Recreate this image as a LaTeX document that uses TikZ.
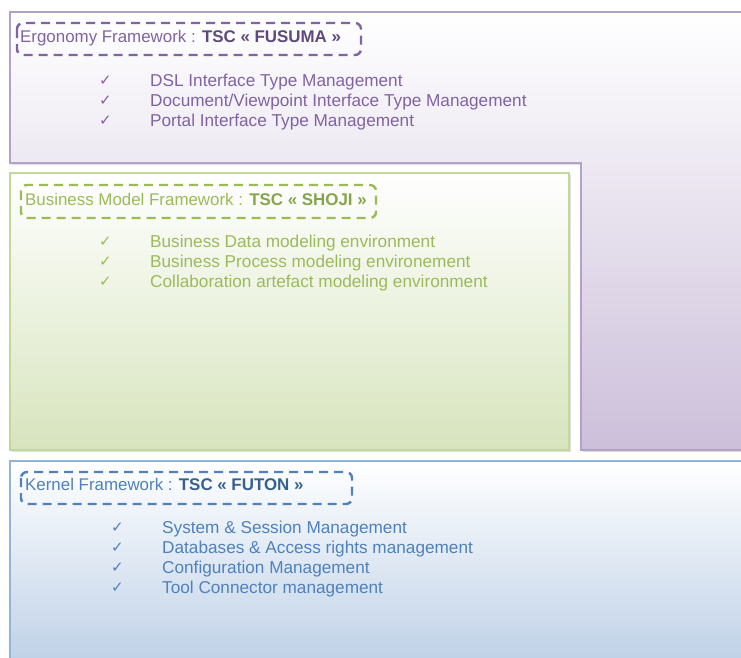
\documentclass[tikz,border=0pt]{standalone}
\usepackage{fontspec}
\setmainfont{Liberation Sans}
\newfontfamily\symfont{DejaVu Sans}
\usetikzlibrary{shadows}
\definecolor{pBorder}{HTML}{B3A2C7}
\definecolor{pFill}{HTML}{CCBFDA}
\definecolor{pText}{HTML}{8064A2}
\definecolor{pBold}{HTML}{5F497A}
\definecolor{gBorder}{HTML}{C3D69B}
\definecolor{gFill}{HTML}{D7E4BD}
\definecolor{gText}{HTML}{9BBB59}
\definecolor{gBold}{HTML}{86A44A}
\definecolor{bBorder}{HTML}{95B3D7}
\definecolor{bFill}{HTML}{B9CDE5}
\definecolor{bText}{HTML}{4F81BD}
\definecolor{bBold}{HTML}{376092}
\tikzset{
  frame/.style={line width=2pt, drop shadow={opacity=0.25, shadow xshift=1.5pt, shadow yshift=-2pt}},
  tagbox/.style={line width=2.4pt, dash pattern=on 9pt off 6pt, rounded corners=6pt},
  titletxt/.style={anchor=base west, inner sep=0pt, font=\fontsize{16.9}{20}\selectfont},
  itemtxt/.style={anchor=base west, inner sep=0pt, font=\fontsize{17.2}{20}\selectfont},
  checktxt/.style={anchor=base west, inner sep=0pt, font=\symfont\fontsize{15}{18}\selectfont},
}
\begin{document}
\begin{tikzpicture}[x=1pt,y=-1pt]
\useasboundingbox (0,0) rectangle (741,657);
\clip (0,0) rectangle (741,657);
% Ergonomy (purple L shape)
\path[frame, draw=pBorder, top color=white, bottom color=pFill]
  (10,12) -- (760,12) -- (760,450) -- (581,450) -- (581,163) -- (10,163) -- cycle;
% Business model (green)
\path[frame, draw=gBorder, top color=white, bottom color=gFill]
  (10,173) rectangle (569,450);
% Kernel (blue)
\path[frame, draw=bBorder, top color=white, bottom color=bFill]
  (10,461) rectangle (760,680);
% title tags
\node (pt) [titletxt, text=pText] at (20,42) {Ergonomy Framework : \textcolor{pBold}{\bfseries TSC « FUSUMA »}};
\draw[tagbox, draw=pText] (17,23) rectangle (361,55);
\node (gt) [titletxt, text=gText] at (25,205) {Business Model Framework : \textcolor{gBold}{\bfseries TSC « SHOJI »}};
\draw[tagbox, draw=gText] (21,185) rectangle (376,218);
\node (bt) [titletxt, text=bText] at (25,490) {Kernel Framework : \textcolor{bBold}{\bfseries TSC « FUTON »}};
\draw[tagbox, draw=bText] (21,472) rectangle (352,504);
% purple items
\foreach \t [count=\i] in {DSL Interface Type Management, Document/Viewpoint Interface Type Management, Portal Interface Type Management} {
  \node (pc\i) [checktxt, text=pText] at (99,85+20*\i-20) {✓};
  \node (pi\i) [itemtxt, text=pText] at (150,86+20*\i-20) {\t};
}
% green items
\foreach \t [count=\i] in {Business Data modeling environment, Business Process modeling environement, Collaboration artefact modeling environment} {
  \node (gc\i) [checktxt, text=gText] at (99,246+20*\i-20) {✓};
  \node (gi\i) [itemtxt, text=gText] at (150,247+20*\i-20) {\t};
}
% blue items
\foreach \t [count=\i] in {System \& Session Management, Databases \& Access rights management, Configuration Management, Tool Connector management} {
  \node (bc\i) [checktxt, text=bText] at (111,532+20*\i-20) {✓};
  \node (bi\i) [itemtxt, text=bText] at (162,533+20*\i-20) {\t};
}
\end{tikzpicture}
\end{document}
